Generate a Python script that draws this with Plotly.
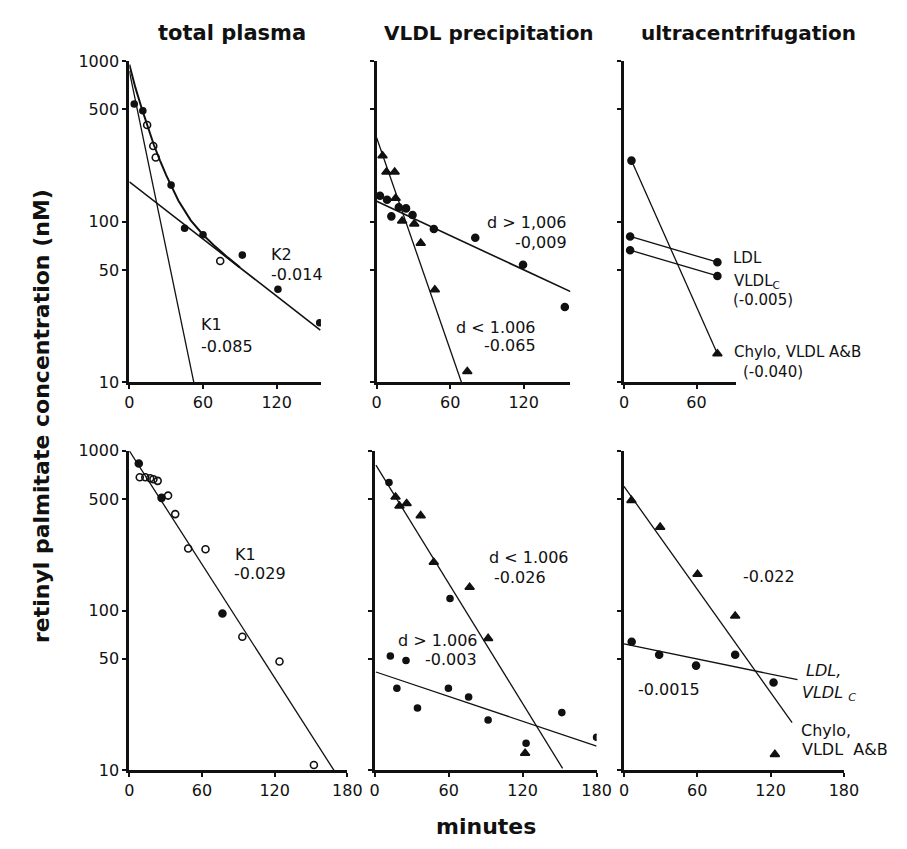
import plotly.graph_objects as go

# ---------------- data (minutes, nM) ----------------
# top-left: total plasma
tp_fill_x = [4, 11, 34, 45, 60, 92, 121, 155]
tp_fill_y = [540, 490, 169, 91, 83, 62, 38, 23.5]
tp_open_x = [14.5, 19.5, 21.5, 74]
tp_open_y = [400, 296, 251, 57]
tp_k1_x = [0, 52.5]
tp_k1_y = [866, 10]
tp_k2_x = [0, 155.5]
tp_k2_y = [177, 21.2]
tp_curve_x = [0, 5, 10, 15, 20, 25, 30, 40, 50, 60, 70, 80, 90]
tp_curve_y = [950, 680, 510, 390, 300, 240, 195, 135, 102, 83, 70, 60, 52]

# top-middle: VLDL precipitation
vp_tri_x = [4.8, 8, 14.7, 15.5, 20.8, 30.7, 36, 47.5, 74]
vp_tri_y = [257, 204, 204, 140, 101, 97, 73.6, 37.7, 11.7]
vp_dot_x = [2.7, 8.5, 12, 18.1, 24, 29.3, 46.7, 80.5, 119.5, 153.6]
vp_dot_y = [145, 137, 108, 123, 121, 110, 90, 79.4, 54, 29.5]
vp_lo_x = [0, 69.3]
vp_lo_y = [333, 10]
vp_hi_x = [0, 158.7]
vp_hi_y = [134, 36.6]

# top-right: ultracentrifugation
uc_chylo_x = [6.2, 77.3]
uc_chylo_y = [240, 15.1]
uc_ldl_x = [5.1, 77.3]
uc_ldl_y = [81, 56]
uc_vldlc_x = [5.1, 77.3]
uc_vldlc_y = [66.5, 46]

# bottom-left: total plasma
bp_fill_x = [7.8, 26.6, 76.9]
bp_fill_y = [833, 508, 96]
bp_open_x = [8.6, 13.2, 17.2, 19.9, 23.4, 32, 37.9, 48.6, 62.9, 93.3, 124, 152.4]
bp_open_y = [683, 683, 674, 665, 649, 525, 402, 245, 242, 68.6, 48, 10.8]
bp_k1_x = [0, 169]
bp_k1_y = [1000, 10]

# bottom-middle: VLDL precipitation
bv_tri_x = [16.9, 20.1, 25.9, 37.3, 47.9, 77, 92, 122]
bv_tri_y = [514, 452, 468, 393, 201, 140, 67, 12.8]
bv_dot_x = [11.6, 12.7, 25.4, 18, 34.7, 59.8, 61.1, 76.2, 92, 122.8, 151.8, 180]
bv_dot_y = [634, 52, 48.7, 32.7, 24.6, 32.7, 119, 28.8, 20.7, 14.8, 23, 16.1]
bv_lo_x = [1, 152.4]
bv_lo_y = [814, 10.3]
bv_hi_x = [1, 180]
bv_hi_y = [41.3, 14.2]

# bottom-right: ultracentrifugation
bu_tri_x = [6.1, 29.6, 60.2, 91, 123.5]
bu_tri_y = [490, 333, 169, 92.5, 12.6]
bu_dot_x = [6.3, 28.8, 59, 91, 122.4]
bu_dot_y = [63.8, 53, 45.3, 53, 35.5]
bu_chylo_x = [0, 137.6]
bu_chylo_y = [600, 19.9]
bu_ldl_x = [0, 142]
bu_ldl_y = [62, 37]

y_ticks = [10, 50, 100, 500, 1000]
y_tick_text = ["10", "50", "100", "500", "1000"]

# ---------------- layout helpers ----------------
W, H = 907, 849
OFF = 8
FW, FH = W - 2 * OFF, H - 2 * OFF


def px_x(x):
    return (x - OFF) / FW


def px_y(y):
    return 1 - (y - OFF) / FH


FONT = "DejaVu Sans"
BLACK = "#111111"

fig = go.Figure()


def line(x, y, ax, width=1.3):
    fig.add_trace(go.Scatter(x=x, y=y, mode="lines", xaxis=ax[0], yaxis=ax[1],
                             line=dict(color=BLACK, width=width), showlegend=False,
                             hoverinfo="skip"))


def pts(x, y, ax, symbol, size):
    fig.add_trace(go.Scatter(x=x, y=y, mode="markers", xaxis=ax[0], yaxis=ax[1],
                             marker=dict(symbol=symbol, size=size, color=BLACK,
                                         line=dict(color=BLACK, width=1.6)),
                             showlegend=False))


A1, A2, A3 = ("x", "y"), ("x2", "y2"), ("x3", "y3")
A4, A5, A6 = ("x4", "y4"), ("x5", "y5"), ("x6", "y6")

# top-left
line(tp_k1_x, tp_k1_y, A1)
line(tp_k2_x, tp_k2_y, A1, 1.6)
line(tp_curve_x, tp_curve_y, A1, 2)
pts(tp_fill_x, tp_fill_y, A1, "circle", 6)
pts(tp_open_x, tp_open_y, A1, "circle-open", 7)
# top-middle
line(vp_lo_x, vp_lo_y, A2)
line(vp_hi_x, vp_hi_y, A2, 1.6)
pts(vp_tri_x, vp_tri_y, A2, "triangle-up", 8)
pts(vp_dot_x, vp_dot_y, A2, "circle", 7)
# top-right
line(uc_chylo_x, uc_chylo_y, A3)
line(uc_ldl_x, uc_ldl_y, A3)
line(uc_vldlc_x, uc_vldlc_y, A3)
pts(uc_ldl_x + uc_vldlc_x + uc_chylo_x[:1], uc_ldl_y + uc_vldlc_y + uc_chylo_y[:1], A3, "circle", 7)
pts(uc_chylo_x[1:], uc_chylo_y[1:], A3, "triangle-up", 8)
# bottom-left
line(bp_k1_x, bp_k1_y, A4)
pts(bp_fill_x, bp_fill_y, A4, "circle", 7)
pts(bp_open_x, bp_open_y, A4, "circle-open", 7)
# bottom-middle
line(bv_lo_x, bv_lo_y, A5)
line(bv_hi_x, bv_hi_y, A5)
pts(bv_tri_x, bv_tri_y, A5, "triangle-up", 8)
pts(bv_dot_x, bv_dot_y, A5, "circle", 6)
# bottom-right
line(bu_chylo_x, bu_chylo_y, A6)
line(bu_ldl_x, bu_ldl_y, A6)
pts(bu_tri_x, bu_tri_y, A6, "triangle-up", 8)
pts(bu_dot_x, bu_dot_y, A6, "circle", 7)

# ---------------- axes ----------------
TOP = [px_y(382), px_y(53)]
BOT = [px_y(779), px_y(452)]


def xax(dom, rng, ticks, anchor):
    return dict(domain=[px_x(dom[0]), px_x(dom[1])], range=rng, anchor=anchor,
                showline=True, linecolor=BLACK, linewidth=2.5, showgrid=False,
                zeroline=False, ticks="outside", ticklen=4, tickwidth=1.5,
                tickcolor=BLACK, tickvals=ticks, ticktext=[str(t) for t in ticks],
                tickfont=dict(family=FONT, size=16, color=BLACK), fixedrange=True)


def yax(dom, anchor, labels):
    return dict(domain=dom, type="log", range=[1, 3], anchor=anchor,
                showline=True, linecolor=BLACK, linewidth=3, showgrid=False,
                zeroline=False, ticks="outside", ticklen=4, tickwidth=1.5,
                tickcolor=BLACK, tickvals=y_ticks, ticktext=y_tick_text,
                showticklabels=labels,
                tickfont=dict(family=FONT, size=16, color=BLACK), fixedrange=True)


layout = dict(
    width=FW, height=FH, autosize=False,
    margin=dict(l=0, r=0, t=0, b=0),
    paper_bgcolor="white", plot_bgcolor="white",
    font=dict(family=FONT, color=BLACK),
    showlegend=False,
    xaxis=xax((127, 323), [0, 156], [0, 60, 120], "y"),
    xaxis2=xax((380, 578), [0, 158], [0, 60, 120], "y2"),
    xaxis3=xax((633, 748), [0, 93], [0, 60], "y3"),
    xaxis4=xax((127, 350), [0, 180], [0, 60, 120, 180], "y4"),
    xaxis5=xax((378, 605), [0, 180], [0, 60, 120, 180], "y5"),
    xaxis6=xax((633, 858), [0, 180], [0, 60, 120, 180], "y6"),
    yaxis=yax(TOP, "x", True),
    yaxis2=yax(TOP, "x2", False),
    yaxis3=yax(TOP, "x3", False),
    yaxis4=yax(BOT, "x4", True),
    yaxis5=yax(BOT, "x5", False),
    yaxis6=yax(BOT, "x6", False),
)
fig.update_layout(**layout)

annots = []


def txt(s, x, y, xa="left", size=16, bold=False, angle=0):
    annots.append(dict(text=("<b>%s</b>" % s) if bold else s, x=px_x(x), y=px_y(y),
                       xref="paper", yref="paper", xanchor=xa, yanchor="middle",
                       showarrow=False, textangle=angle,
                       font=dict(family=FONT, size=size, color=BLACK)))


# titles
txt("total plasma", 232, 24, "center", 21, True)
txt("VLDL precipitation", 495, 24, "center", 20, True)
txt("ultracentrifugation", 760, 24, "center", 20, True)
txt("minutes", 492, 836, "center", 22, True)
txt("retinyl palmitate concentration (nM)", 37, 416, "center", 22, True, -90)

# top-left
txt("K2", 270, 251)
txt("-0.014", 270, 271)
txt("K1", 198, 323)
txt("-0.085", 198, 345)
# top-middle
txt("d > 1,006", 577, 218, "right")
txt("-0,009", 577, 239, "right")
txt("d < 1.006", 545, 326, "right")
txt("-0.065", 545, 344, "right")
# top-right
txt("LDL", 742, 255, size=15)
txt("VLDL<sub>C</sub>", 743, 279, size=15)
txt("(-0.005)", 742, 298, size=15)
txt("Chylo, VLDL A&B", 743, 351, size=15)
txt("(-0.040)", 753, 371, size=15)
# bottom-left
txt("K1", 233, 558)
txt("-0.029", 232, 578)
# bottom-middle
txt("d < 1.006", 493, 561)
txt("-0.026", 498, 582)
txt("d > 1.006", 400, 646)
txt("-0.003", 427, 666)
# bottom-right
txt("-0.022", 753, 581)
txt("-0.0015", 645, 696)
txt("<i>LDL,</i>", 817, 677)
txt("<i>VLDL <sub>C</sub></i>", 813, 700)
txt("Chylo,", 812, 738)
txt("VLDL  A&B", 813, 758)

fig.update_layout(annotations=annots)
fig.write_html("out.html")
